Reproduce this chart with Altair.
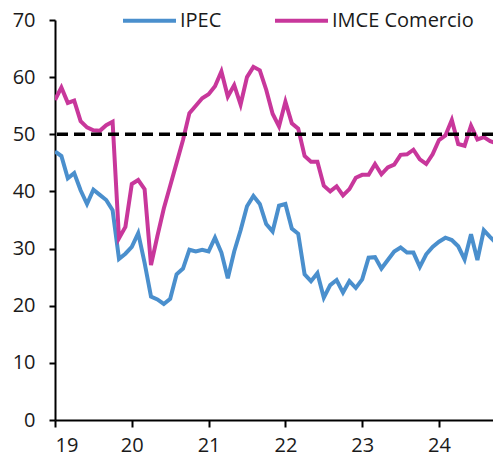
import altair as alt
import pandas as pd

# ---- data (monthly, Jan 2019 onward) ----
series_names = ["IPEC", "IMCE Comercio"]
series_colors = ["#4A8FCD", "#C8379B"]

ipec = [47.0, 46.2, 42.3, 43.2, 40.2, 37.8, 40.3, 39.4, 38.5, 36.7,
        28.2, 29.1, 30.3, 32.7, 27.5, 21.6, 21.1, 20.3, 21.2, 25.5,
        26.5, 29.8, 29.5, 29.8, 29.5, 31.9, 29.3, 24.8, 29.5, 33.2,
        37.4, 39.2, 37.8, 34.3, 33.0, 37.5, 37.8, 33.5, 32.6, 25.5,
        24.3, 25.7, 21.4, 23.6, 24.5, 22.3, 24.3, 23.1, 24.6, 28.4,
        28.5, 26.5, 28.0, 29.5, 30.2, 29.3, 29.3, 26.8, 29.0, 30.3,
        31.2, 31.9, 31.5, 30.4, 28.1, 32.5, 28.0, 33.2, 32.0, 30.9,
        32.8]

imce = [56.0, 58.2, 55.5, 55.9, 52.3, 51.2, 50.7, 50.6, 51.6, 52.2,
        31.8, 33.8, 41.3, 42.0, 40.4, 27.1, 32.2, 37.0, 41.0, 45.0,
        49.0, 53.7, 55.0, 56.3, 57.0, 58.4, 61.0, 56.6, 58.6, 55.2,
        60.0, 61.8, 61.2, 57.8, 53.6, 51.4, 55.7, 51.9, 51.0, 46.2,
        45.2, 45.2, 41.0, 40.0, 40.9, 39.3, 40.4, 42.4, 42.9, 42.9,
        44.8, 43.0, 44.2, 44.7, 46.4, 46.5, 47.3, 45.6, 44.8, 46.5,
        49.0, 49.8, 52.5, 48.3, 48.0, 51.5, 49.1, 49.5, 48.8, 48.4,
        48.5]

start_year = 19
months = list(range(len(ipec)))
threshold = [50]
x_ticks = [19, 20, 21, 22, 23, 24]
y_ticks = [0, 10, 20, 30, 40, 50, 60, 70]

t = [start_year + m / 12 for m in months]
df = pd.DataFrame({
    "t": t + t,
    "v": ipec + imce,
    "s": [series_names[0]] * len(ipec) + [series_names[1]] * len(imce),
})
df_thr = pd.DataFrame({"y": threshold})

FONT = "Open Sans"

x_enc = alt.X(
    "t:Q",
    scale=alt.Scale(domain=[19, 24.703], nice=False, zero=False),
    axis=alt.Axis(values=x_ticks, format="d", title=None, grid=False,
                  tickSize=7, labelPadding=8),
)
y_scale = alt.Scale(domain=[0, 70], nice=False)

lines = alt.Chart(df).mark_line(strokeWidth=4, clip=True).encode(
    x=x_enc,
    y=alt.Y("v:Q", scale=y_scale,
            axis=alt.Axis(values=y_ticks, title=None, grid=False,
                          tickSize=6, labelPadding=14)),
    color=alt.Color(
        "s:N",
        scale=alt.Scale(domain=series_names, range=series_colors),
        sort=series_names,
        legend=alt.Legend(
            title=None, orient="none", direction="horizontal",
            legendX=66, legendY=-28,
            symbolType="stroke", symbolSize=2809, symbolStrokeWidth=4,
            labelOffset=2, columnPadding=45, padding=0,
            labelFont=FONT, labelFontSize=20, labelColor="#1a1a1a",
        ),
    ),
    order=alt.Order("t:Q"),
)

rule = alt.Chart(df_thr).mark_rule(
    color="black", strokeWidth=3.5, strokeDash=[11, 6]
).encode(y=alt.Y("y:Q", scale=y_scale))

chart = alt.layer(lines, rule).properties(
    width=438,
    height=400,
    autosize=alt.AutoSizeParams(type="none"),
    padding={"left": 47, "top": 12, "right": 0, "bottom": 35},
).configure_view(
    stroke=None
).configure_axis(
    domainColor="black", domainWidth=2,
    tickColor="black", tickWidth=2,
    labelFont=FONT, labelFontSize=20, labelColor="#1a1a1a",
)

chart.save("out.html", embed_options={"renderer": "svg", "actions": False})
